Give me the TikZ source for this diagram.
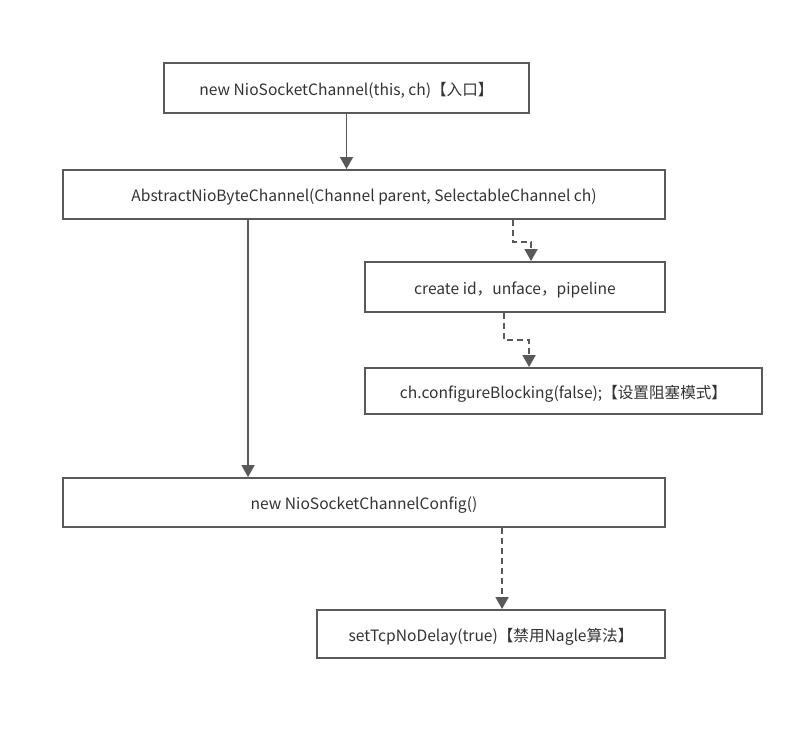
\documentclass[tikz,border=0pt]{standalone}
\usepackage{fontspec}
\setmainfont{Noto Sans CJK SC}
\usetikzlibrary{arrows.meta}
\definecolor{linegray}{HTML}{595959}
\definecolor{txt}{HTML}{333333}
\tikzset{
  box/.style={draw=linegray, line width=1.9pt, fill=white, rectangle, inner sep=0pt,
    text=txt, font=\fontsize{15.6}{18}\selectfont, text height=16pt, text depth=2pt},
  conn/.style={draw=linegray, line width=1.9pt, -{Triangle[width=13pt,length=12pt]}},
  dconn/.style={conn, dash pattern=on 6pt off 4pt},
}
\begin{document}
\begin{tikzpicture}[x=1pt,y=-1pt]
\useasboundingbox (0,0) rectangle (806,732);
\node[box, minimum width=365pt, minimum height=50pt] (b1) at (346.5,88) {new NioSocketChannel(this, ch)【入口】};
\node[box, minimum width=602pt, minimum height=49pt] (b2) at (364,194.5) {AbstractNioByteChannel(Channel parent, SelectableChannel ch)};
\node[box, minimum width=300pt, minimum height=50pt] (b3) at (515,287) {create id，unface，pipeline};
\node[box, minimum width=397pt, minimum height=46pt] (b4) at (563.5,391) {ch.configureBlocking(false);【设置阻塞模式】};
\node[box, minimum width=602pt, minimum height=49pt] (b5) at (364,502.5) {new NioSocketChannelConfig()};
\node[box, minimum width=348pt, minimum height=48pt] (b6) at (491,634) {setTcpNoDelay(true)【禁用Nagle算法】};

\draw[conn] (b1.south) -- (b1.south |- b2.north);
\draw[conn] ([xshift=186pt]b2.south west) -- ([xshift=186pt]b5.north west);
\draw[dconn] ([xshift=451pt]b2.south west) -- ++(0pt,-22pt) -| ([xshift=167pt]b3.north west);
\draw[dconn] ([xshift=140pt]b3.south west) -- ++(0pt,-27pt) -| ([xshift=165pt]b4.north west);
\draw[dconn] ([xshift=440pt]b5.south west) -- ([xshift=186pt]b6.north west);
\end{tikzpicture}
\end{document}
